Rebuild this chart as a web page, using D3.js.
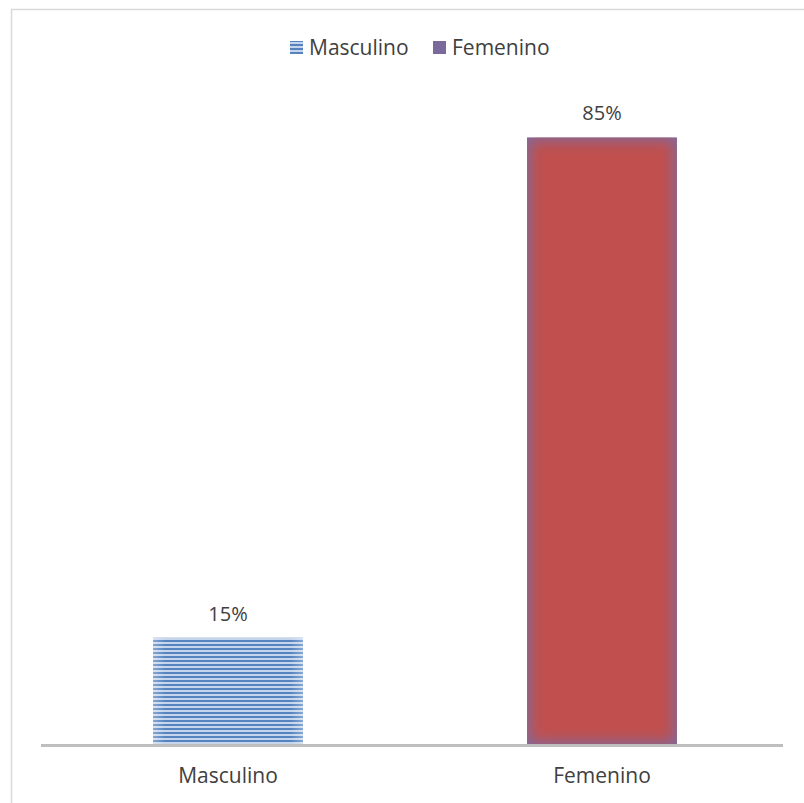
<!DOCTYPE html>
<html><head><meta charset="utf-8">
<script src="https://cdn.jsdelivr.net/npm/d3@7"></script>
<style>body{margin:0;background:#fff}svg{display:block}text{font-family:"Open Sans",sans-serif;fill:#404040}</style>
</head><body>
<script>
const categories = ["Masculino", "Femenino"];
const values = [15, 85];
const valueLabels = ["15%", "85%"];
const seriesNames = ["Masculino", "Femenino"];

const W = 804, H = 803;
const svg = d3.select("body").append("svg").attr("width", W).attr("height", H);
const defs = svg.append("defs");

const pat = defs.append("pattern").attr("id", "stripes").attr("patternUnits", "userSpaceOnUse")
  .attr("width", 8).attr("height", 4);
pat.append("rect").attr("width", 8).attr("height", 4).attr("fill", "#c5d6ec");
pat.append("rect").attr("width", 8).attr("height", 2).attr("fill", "#5683c0");

const edgeGrad = defs.append("linearGradient").attr("id", "edgeFade");
edgeGrad.append("stop").attr("offset", "0").attr("stop-color", "#fff").attr("stop-opacity", 0.3);
edgeGrad.append("stop").attr("offset", "0.08").attr("stop-color", "#fff").attr("stop-opacity", 0);
edgeGrad.append("stop").attr("offset", "0.92").attr("stop-color", "#fff").attr("stop-opacity", 0);
edgeGrad.append("stop").attr("offset", "1").attr("stop-color", "#fff").attr("stop-opacity", 0.3);

const blur = defs.append("filter").attr("id", "glow").attr("x", "-20%").attr("y", "-20%").attr("width", "140%").attr("height", "140%");
blur.append("feGaussianBlur").attr("stdDeviation", 7);

// border
svg.append("rect").attr("x", 11.5).attr("y", 9.5).attr("width", 800).attr("height", 800)
  .attr("fill", "none").attr("stroke", "#d9d9d9").attr("stroke-width", 1.5);

const x = d3.scaleBand().domain(categories).range([41, 789]).paddingInner(0.599).paddingOuter(0.2995);
const y = d3.scaleLinear().domain([0, 100]).range([745, 30]);

values.forEach((v, i) => {
  const bx = x(categories[i]), bw = x.bandwidth(), by = y(v), bh = y(0) - y(v);
  if (i === 0) {
    svg.append("rect").attr("x", bx).attr("y", by).attr("width", bw).attr("height", bh).attr("fill", "url(#stripes)");
    svg.append("rect").attr("x", bx).attr("y", by).attr("width", bw).attr("height", bh).attr("fill", "url(#edgeFade)");
  } else {
    const cp = defs.append("clipPath").attr("id", "clip" + i);
    cp.append("rect").attr("x", bx).attr("y", by).attr("width", bw).attr("height", bh);
    const g = svg.append("g").attr("clip-path", `url(#clip${i})`);
    g.append("rect").attr("x", bx).attr("y", by).attr("width", bw).attr("height", bh).attr("fill", "#7f6a9e");
    g.append("rect").attr("x", bx + 3).attr("y", by + 3).attr("width", bw - 6).attr("height", bh - 6)
      .attr("fill", "#c0504d").attr("filter", "url(#glow)");
  }
  svg.append("text").attr("x", bx + bw / 2).attr("y", by - 17).attr("text-anchor", "middle")
    .attr("font-size", 20).text(valueLabels[i]);
});

// axis
const axis = svg.append("g").attr("transform", `translate(0,${y(0)})`)
  .call(d3.axisBottom(x).tickSize(0).tickPadding(23).tickSizeOuter(0));
axis.select(".domain").attr("stroke", "#bfbfbf").attr("stroke-width", 3).attr("d", "M41,0.5H783");
axis.selectAll("text").attr("font-size", 21).attr("fill", "#404040").style("font-family", "'Open Sans',sans-serif");

// legend
const legX = [290, 433];
seriesNames.forEach((s, i) => {
  const gx = legX[i];
  svg.append("rect").attr("x", gx).attr("y", 41).attr("width", 13).attr("height", 13)
    .attr("fill", i === 0 ? "url(#stripes)" : "#7a6a9b");
  svg.append("text").attr("x", gx + 19).attr("y", 55).attr("font-size", 21).text(s);
});
</script>
</body></html>
